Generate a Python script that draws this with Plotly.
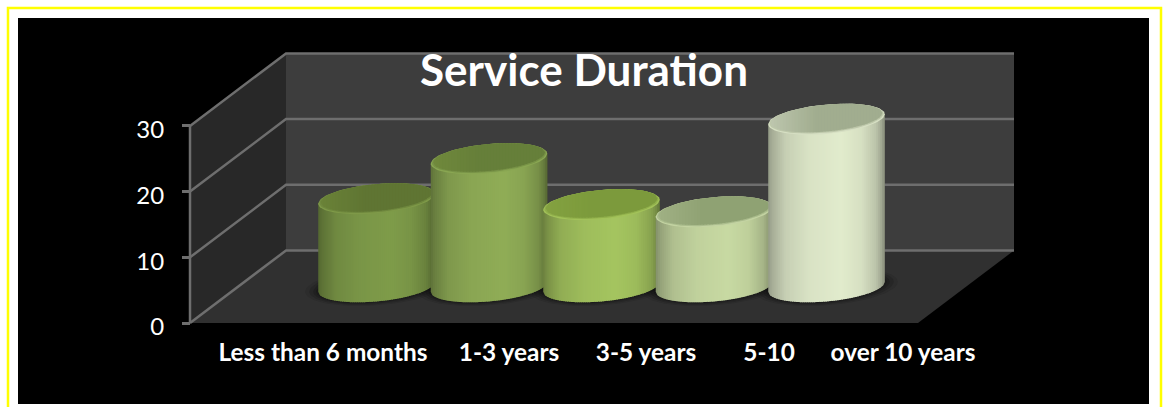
import numpy as np
import plotly.graph_objects as go

# ---- data ----
categories = ["Less than 6 months", "1-3 years", "3-5 years", "5-10", "over 10 years"]
values = [13.4, 19.5, 12.5, 11.4, 25.5]
y_ticks = [0, 10, 20, 30]
title_text = "Service Duration"

# ---- styling per cylinder ----
side_colors = ["#7f9c4a", "#90ad57", "#a5c560", "#c8daa3", "#e2eccd"]
cap_colors = ["#5f7533", "#667f3a", "#7c9a3c", "#8fa273", "#a1ad8f"]
cap_light = ["#6a8238", "#70893c", "#84a241", "#a0b184", "#bcc5ad"]
rim_colors = ["#84a04c", "#90ad57", "#a9ca5f", "#cddcab", "#e0e8cd"]

# ---- geometry (x axis runs in page-width units, y axis in value units) ----
W, H = 1165, 407
UNIT = 6.57              # pixels per value unit
Y0_PX = 323              # pixel row of value 0 at the front
XF, XB, XR = 190, 286, 1014
XFR = 918
DEPTH = 72.5 / UNIT      # rise of the floor from front to back, value units
CENTER0, STEP, CYL_W = 376.5, 112.5, 116.5
B = 14.7 / UNIT          # cap half height
K = 5.0 / UNIT           # cap tilt


def mix(c, f):
    r, g, b = int(c[1:3], 16), int(c[3:5], 16), int(c[5:7], 16)
    return f"rgb({min(255,int(r*f))},{min(255,int(g*f))},{min(255,int(b*f))})"


def blend(c1, c2, t):
    a = [int(c1[i:i + 2], 16) for i in (1, 3, 5)]
    b = [int(c2[i:i + 2], 16) for i in (1, 3, 5)]
    return "rgb(" + ",".join(str(int(x + (y - x) * t)) for x, y in zip(a, b)) + ")"


def poly(xs, ys, color, line=None):
    return go.Scatter(x=list(xs), y=list(ys), mode="lines", fill="toself", fillcolor=color,
                      line=dict(width=0, color=color), hoverinfo="skip", showlegend=False)


def seg(xs, ys, color="#6e6e6e", width=2.5):
    return go.Scatter(x=xs, y=ys, mode="lines", line=dict(color=color, width=width),
                      hoverinfo="skip", showlegend=False)


def ellipse(cx, cy, a, b, k=K, n=90):
    t = np.linspace(0, 2 * np.pi, n)
    u = np.cos(t)
    return cx + a * u, cy + b * np.sin(t) + k * u


fig = go.Figure()

# walls and floor
fig.add_trace(poly([XF, XB, XB, XF], [0, DEPTH, 30 + DEPTH, 30], "#282828"))
fig.add_trace(poly([XB, XR, XR, XB], [DEPTH, DEPTH, 30 + DEPTH, 30 + DEPTH], "#3d3d3d"))
fig.add_trace(poly([XF, XB, XR, XFR], [0, DEPTH, DEPTH, 0], "#303030"))
for v in y_ticks:
    fig.add_trace(seg([XF, XB, XR], [v, v + DEPTH, v + DEPTH]))
fig.add_trace(seg([XF, XF], [0, 30]))

centers = [CENTER0 + i * STEP for i in range(len(values))]
base_y = DEPTH / 2

# soft floor shadow
for grow, alpha in ((13, 0.10), (9, 0.14), (5, 0.2), (2, 0.25)):
    for cx in centers:
        ex, ey = ellipse(cx, base_y, CYL_W / 2 + grow, B + grow * 0.1 / UNIT * 3)
        fig.add_trace(poly(ex, ey, f"rgba(10,10,10,{alpha})"))

# cylinders, back to front in drawing order
prof_u = [-1.0, -0.93, -0.7, -0.3, 0.25, 0.6, 0.85, 0.95, 1.0]
prof_f = [0.66, 0.74, 0.88, 0.96, 1.0, 0.95, 0.83, 0.70, 0.58]
a = CYL_W / 2
STRIP = 2.0
for i, (v, cx) in enumerate(zip(values, centers)):
    top_y = base_y + v
    # side wall as narrow strips, each with its own shade
    edges = np.arange(cx - a, cx + a, STRIP)
    for x0 in edges:
        x1 = min(x0 + STRIP + 0.8, cx + a)
        us = np.linspace((x0 - cx) / a, (x1 - cx) / a, 3)
        xs = cx + a * us
        low = base_y - B * np.sqrt(np.clip(1 - us ** 2, 0, 1)) + K * us
        upp = top_y + K * us
        f = np.interp((x0 + STRIP / 2 - cx) / a, prof_u, prof_f)
        fig.add_trace(poly(np.r_[xs, xs[::-1]], np.r_[low, upp[::-1]], mix(side_colors[i], f)))
    # cap: soft rim in two steps, then inner surface with a left-to-right shade
    ex, ey = ellipse(cx, top_y, a, B)
    fig.add_trace(poly(ex, ey, blend(rim_colors[i], cap_colors[i], 0.15)))
    ex, ey = ellipse(cx, top_y + 0.6 / UNIT, a - 1.2, B - 0.6 / UNIT)
    fig.add_trace(poly(ex, ey, blend(rim_colors[i], cap_colors[i], 0.55)))
    ia, ib = a - 2.5, B - 1.3 / UNIT
    icy = top_y + 1.2 / UNIT
    for x0 in np.arange(cx - ia, cx + ia, 3.0):
        x1 = min(x0 + 3.8, cx + ia)
        us = np.linspace((x0 - cx) / ia, (x1 - cx) / ia, 5)
        xs = cx + ia * us
        h = ib * np.sqrt(np.clip(1 - us ** 2, 0, 1))
        t = np.clip(((x0 - cx) / ia + 1) / 0.8, 0, 1)
        fig.add_trace(poly(np.r_[xs, xs[::-1]],
                           np.r_[icy - h + K * us, (icy + h + K * us)[::-1]],
                           blend(cap_light[i], cap_colors[i], t)))

label_x = [323, 509, 646, 769, 903]

frame = dict(type="rect", xref="paper", yref="paper", layer="below")
fig.update_layout(
    width=W, height=H, autosize=False,
    margin=dict(l=0, r=0, t=0, b=0),
    paper_bgcolor="#ffffff", plot_bgcolor="rgba(0,0,0,0)",
    showlegend=False,
    title=dict(text=f"<b>{title_text}</b>", x=584 / W, xanchor="center", y=1 - 71 / H, yanchor="middle",
               font=dict(family="Lato", size=44, color="#ffffff")),
    xaxis=dict(range=[0, W], domain=[0, 1], anchor="free", position=1 - 336 / H,
               showgrid=False, zeroline=False, showline=False, ticks="",
               tickmode="array", tickvals=label_x, ticktext=[f"<b>{c}</b>" for c in categories],
               tickangle=0, tickfont=dict(family="Lato", size=24.4, color="#ffffff")),
    yaxis=dict(range=[(Y0_PX - H) / UNIT, Y0_PX / UNIT], domain=[0, 1], anchor="free", position=XF / W,
               showgrid=False, zeroline=False, showline=False, ticks="outside", ticklen=8,
               tickwidth=2.5, tickcolor="#6e6e6e", tickmode="array", tickvals=y_ticks,
               ticklabelstandoff=13, ticklabelshift=4,
               tickfont=dict(family="Lato", size=24, color="#ffffff")),
    shapes=[
        dict(frame, x0=8 / W, x1=1161 / W, y0=-0.01, y1=1 - 8 / H, line=dict(color="#ffff00", width=2.5),
             fillcolor="#ffffff"),
        dict(frame, x0=18 / W, x1=1149 / W, y0=1 - 404 / H, y1=1 - 18 / H, line=dict(width=0),
             fillcolor="#000000"),
    ],
)

fig.write_html("out.html", config={"displayModeBar": False, "responsive": False},
               post_script="document.body.style.margin='0';document.documentElement.style.overflow='hidden';")
